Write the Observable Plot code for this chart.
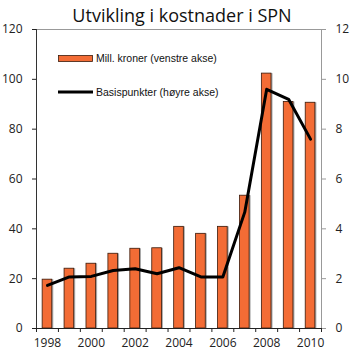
<!DOCTYPE html>
<html>
<head>
<meta charset="utf-8">
<script src="https://cdn.jsdelivr.net/npm/d3@7"></script>
<script src="https://cdn.jsdelivr.net/npm/@observablehq/plot@0.6"></script>
<style>
  body { margin: 0; background: #fff; }
  #chart { width: 350px; height: 353px; }
  svg { overflow: visible; }
</style>
</head>
<body>
<div id="chart"></div>
<script>
const title = "Utvikling i kostnader i SPN";
const years = [1998, 1999, 2000, 2001, 2002, 2003, 2004, 2005, 2006, 2007, 2008, 2009, 2010];
const millKroner = [19.6, 24, 26, 30, 32, 32.2, 40.8, 38, 40.8, 53.3, 102.3, 90.9, 90.6];
const basispunkter = [1.73, 2.07, 2.09, 2.33, 2.4, 2.2, 2.44, 2.07, 2.07, 4.67, 9.6, 9.2, 7.6];
const leftTicks = [0, 20, 40, 60, 80, 100, 120];
const rightTicks = [0, 2, 4, 6, 8, 10, 12];
const xLabels = [1998, 2000, 2002, 2004, 2006, 2008, 2010];
const legendLabels = ["Mill. kroner (venstre akse)", "Basispunkter (høyre akse)"];

const data = years.map((y, i) => ({year: y, mill: millKroner[i], bp: basispunkter[i]}));
const half = 0.22;
const font = "'Open Sans', sans-serif";

const plot = Plot.plot({
  width: 350,
  height: 353,
  marginLeft: 36,
  marginRight: 29,
  marginTop: 29,
  marginBottom: 25,
  style: {fontFamily: font, fontSize: "12px", color: "#222", background: "#fff"},
  x: {type: "linear", domain: [years[0] - 0.5, years[years.length - 1] + 0.5]},
  y: {domain: [0, 120]},
  marks: [
    Plot.frame({anchor: "top", stroke: "#999"}),
    Plot.rectY(data, {x1: d => d.year - half, x2: d => d.year + half, y: "mill", fill: "#a8a8a8", dx: 1.5}),
    Plot.rectY(data, {x1: d => d.year - half, x2: d => d.year + half, y: "mill", fill: "#F36C35", stroke: "#3b1b0c", strokeWidth: 0.8}),
    Plot.line(data, {x: "year", y: d => d.bp * 10, stroke: "#000", strokeWidth: 3, strokeLinejoin: "round"}),
    Plot.axisY({anchor: "left", ticks: leftTicks, tickSize: 4, tickPadding: 10, label: null, fontSize: 12}),
    Plot.ruleX([years[0] - 0.5], {stroke: "#333"}),
    Plot.axisY({anchor: "right", ticks: rightTicks.map(v => v * 10), tickFormat: d => d / 10, tickSize: 4, tickPadding: 10, label: null, stroke: "#999", fontSize: 12}),
    Plot.ruleX([years[years.length - 1] + 0.5], {stroke: "#999"}),
    Plot.axisX({ticks: years.map(y => y + 0.5).concat([years[0] - 0.5]), tickFormat: () => "", tickSize: 4, label: null}),
    Plot.axisX({ticks: xLabels, tickSize: 0, tickPadding: 10, tickFormat: d => String(d), label: null, fontSize: 12}),
    Plot.ruleY([0], {stroke: "#222"}),
    Plot.text([title], {frameAnchor: "top", dy: -20, dx: 3, fontSize: 18, fontFamily: font, fill: "#111"})
  ]
});

// Legend inside plot area
const svg = d3.select(plot);
const g = svg.append("g")
  .attr("font-family", "'Liberation Sans', Arial, sans-serif")
  .attr("font-size", 10.5)
  .attr("text-anchor", "start")
  .attr("fill", "#111");
g.append("rect").attr("x", 58.5).attr("y", 55.5).attr("width", 34).attr("height", 6)
  .attr("fill", "#F36C35").attr("stroke", "#3b1b0c").attr("stroke-width", 0.8);
g.append("text").attr("x", 96).attr("y", 58.5).attr("dy", "0.35em").attr("text-anchor", "start").text(legendLabels[0]);
g.append("line").attr("x1", 58).attr("x2", 93).attr("y1", 92).attr("y2", 92)
  .attr("stroke", "#000").attr("stroke-width", 3);
g.append("text").attr("x", 96).attr("y", 92.5).attr("dy", "0.35em").attr("text-anchor", "start").text(legendLabels[1]);

document.getElementById("chart").appendChild(plot);
</script>
</body>
</html>
